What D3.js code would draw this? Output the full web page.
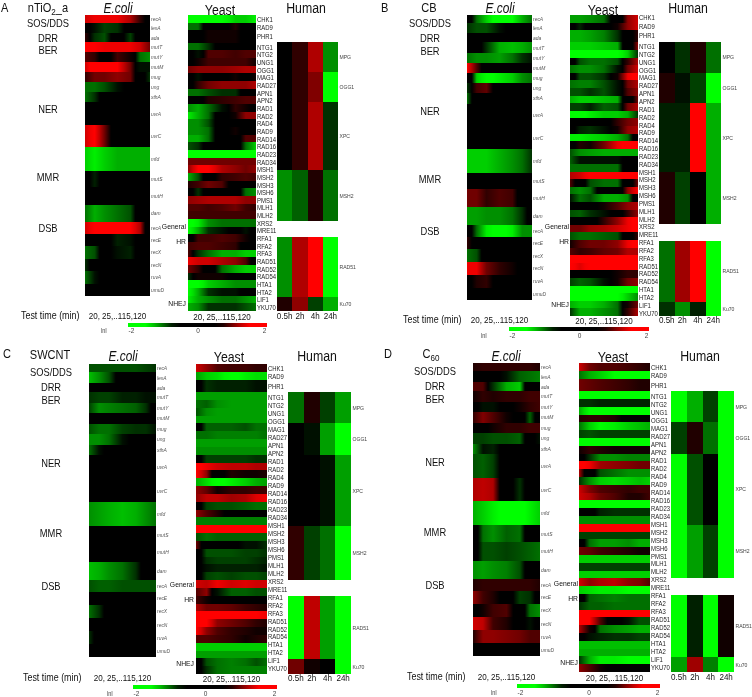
<!DOCTYPE html>
<html>
<head>
<meta charset="utf-8">
<script src="https://d3js.org/d3.v7.min.js"></script>
<style>
  html, body { margin: 0; padding: 0; background: #fff; }
  svg { display: block; filter: blur(.45px); font-family: "Liberation Sans", Arial, sans-serif; }
</style>
</head>
<body>
<script>
var timeKnots = [20, 35, 50, 70, 90, 105, 120];
var humanTimes = ["0.5h", "2h", "4h", "24h"];
var legendTicks = [-2, 0, 2];

var ecoliGenes = ["recA","lexA","ada","mutT","mutY","mutM","mug","ung","xthA","uvrA","uvrC","mfd","mutS","mutH","dam","recA","recE","recX","recN","ruvA","umuD"];
var ecoliWeights = [8,10,9,10,10,10,10,10,10,23,22,23,16,18,17,12,12,13,12,13,12];
var yeastGenes = ["CHK1","RAD9","PHR1","NTG1","NTG2","UNG1","OGG1","MAG1","RAD27","APN1","APN2","RAD1","RAD2","RAD4","RAD9","RAD14","RAD16","RAD23","RAD34","MSH1","MSH2","MSH3","MSH6","PMS1","MLH1","MLH2","XRS2","MRE11","RFA1","RFA2","RFA3","RAD51","RAD52","RAD54","HTA1","HTA2","LIF1","YKU70"];
var humanGenes = ["MPG","OGG1","XPC","MSH2","","RAD51","Ku70"];
var humanWeights = [30,30,68,51,16,60,14];
var categories = ["SOS/DDS","DRR","BER","NER","MMR","DSB"];
var subCategories = ["General","HR","NHEJ"];

// lnI, one row per line
var ecoliA = [
  [1.3,1.4,1.4,1.4,1.2,.8,0],
  [0,-.7,-.85,-.8,0,0,0],
  [.8,-.8,-.9,0,-.85,0,0],
  [1.45,1.45,1.4,1.4,1.4,1.3,1],
  [.9,.8,0,.85,.7,-1,-1.1],
  [1.3,1.6,1.6,1.5,1,-.7,-.7],
  [.8,1,1,1.1,1,0,-.8],
  [-1,-1,-.9,-.7,0,0,0],
  [-1,-.8,0,0,0,0,0],
  [0,0,0,0,0,0,0],
  [1.3,1.5,1,0,0,0,0],
  [-1.3,-1.4,-1.3,-1.2,-1.2,-1.2,-1.2],
  [0,-.75,0,0,0,0,0],
  [0,0,0,0,0,0,0],
  [-1,-1.2,-1.1,-1,-.9,0,0],
  [1.3,1.5,1.6,1.6,1.5,1.2,0],
  [0,0,0,-.75,-.7,0,0],
  [-1,-.9,0,-.7,-.75,0,0],
  [-.8,0,0,0,0,0,0],
  [-1,-.7,0,0,0,0,0],
  [0,0,0,0,0,0,0]
];
var yeastA = [
  [-1.6,-1.5,-1.5,-1.5,-1.3,-1.3,-1.4],
  [-1,-1,0,0,.75,0,0],
  [0,0,.7,.7,.7,0,0],
  [-1,-1,-.8,0,0,0,0],
  [0,-.7,.9,.9,.85,.9,.9],
  [0,.7,.85,.85,.85,.85,.7],
  [1,1.1,1.1,1.1,1.15,1.2,1.2],
  [0,-.7,0,0,.7,0,.7],
  [0,.8,1,1.1,1.1,1.1,1.2],
  [-1,-1,-.9,-.8,-.8,0,0],
  [0,0,.75,.8,.85,.9,.9],
  [-1.1,-1.2,-1,-.7,.8,.7,0],
  [-1.4,-1.2,-1,0,.7,1.1,1.1],
  [-1.1,-1.1,-.9,0,0,0,0],
  [-1.1,-1.1,-1,0,.7,0,0],
  [-1.2,-1.2,-1,0,0,.9,.9],
  [-.9,-.8,0,0,0,-1,-1.3],
  [-1.5,-1.6,-1.5,-1.5,-1.5,-1.5,-1.5],
  [1,1,1,1,1,1,1],
  [1.1,1.5,1.5,1.2,1.1,1,1.1],
  [-1.2,-.9,0,.8,.85,.9,.85],
  [.75,.85,1,.9,0,0,0],
  [0,-.8,0,0,0,-1,-1.1],
  [1.1,1.15,1.2,1.2,1.2,1.1,1.1],
  [.9,.9,.85,.9,1,.85,.8],
  [.85,.85,.85,.85,.85,.85,.85],
  [-1.6,-1.4,-1.1,-1,-1,-1,-1],
  [-1.5,-1.2,-.8,-.7,0,-.7,0],
  [0,.85,.85,.9,.85,.7,0],
  [.85,.9,.9,.85,.8,0,0],
  [.9,-.8,-1,-1.2,-1.2,-1.3,-1.3],
  [1.4,1.3,1.3,1.2,1.1,.9,0],
  [1,.8,0,-1,-1.2,-1.3,-1.3],
  [-.8,.7,.7,.7,0,0,0],
  [-1.5,-1.5,-1.3,-1.2,-1.1,-1.1,-1.1],
  [-1.5,-1.2,-.8,-.7,-.7,0,0],
  [-1.4,-1.2,-1.1,-1,-1,-1.1,-1.2],
  [-1.2,-1.1,-.8,-.8,-.8,-.9,-1]
];
var humanA = [[0,.8,1.2,-1.1],[0,.8,1.05,-1.6],[0,.8,1.2,-.8],[-1.1,-.95,.75,-1],[],[-1.1,1.2,1.5,-1.5],[.75,1.1,-.85,-1.2]];

var ecoliB = [
  [0,-1,-1.3,-1.6,-1.45,-1.2,-1],
  [-.8,-.9,-.9,-.7,0,0,0],
  [0,0,0,0,0,0,0],
  [0,0,-.8,-1.2,-1.25,-1.2,-1.1],
  [-1,-1.1,-1.1,-1.15,-1,-.8,-.7],
  [1.5,.9,0,0,0,0,0],
  [0,-1.3,-1.5,-1.4,-1.3,-1.1,-1],
  [-.8,.85,.95,0,0,0,0],
  [-1,0,0,0,0,0,0],
  [0,0,0,0,0,0,0],
  [0,0,0,0,0,0,0],
  [-1.3,-1.3,-1.3,-1.2,-1.1,-1,-.8],
  [0,0,0,0,0,0,0],
  [1,1,.8,.9,.85,0,0],
  [-1.15,-1.15,-1.1,-1.1,-1,-.8,0],
  [0,-1,-1.4,-1.7,-1.4,-1.1,-1.1],
  [.8,0,0,0,0,0,0],
  [-1,-.9,0,0,0,0,0],
  [1.4,1.4,1,.8,.7,0,0],
  [0,.75,.8,0,0,0,0],
  [0,0,0,0,0,0,0]
];
var yeastB = [
  [-1.15,-1.15,-1.1,-1,0,1.1,1.3],
  [0,-.75,0,0,.7,1.1,1.3],
  [-1.2,-1.2,-1.15,-1.05,-.8,0,.8],
  [-1.3,-1.3,-1.3,-1.25,-1.2,0,1.1],
  [-1.5,-1.5,-1.5,-1.5,-1.5,-1.3,-.8],
  [0,-.9,-1,-1,-.9,.8,1.2],
  [-1,-1.1,-1.1,-1,-.7,1,1.3],
  [0,-.9,-.9,-.8,.7,1.4,1.6],
  [-1,-1.05,-1.05,-.9,-.7,1,1.2],
  [-.9,-.9,-.8,-.9,-.7,.9,1.1],
  [-1.2,-1.3,-1.3,-1.25,-1.2,0,1],
  [-.85,-.85,-.75,-.95,-.9,1,1.2],
  [-1.5,-1.5,-1.4,-1.3,-1.3,-1.2,-.8],
  [0,0,0,0,.8,1,1.1],
  [0,-.75,-.8,-.7,.7,1.1,1.2],
  [-1.4,-1.4,-1.35,-1.3,-1.2,-1,0],
  [0,.75,.7,1,1.4,1.5,1.5],
  [-.9,-1.1,-1.15,-1.2,-1.2,-1.2,-1.2],
  [-.95,-.7,-.7,-.7,-.7,0,0],
  [-1,-1,-1,-1,-1,0,0],
  [1.2,1.3,1.5,1.5,1.5,1.5,1.5],
  [.9,0,-.9,-1,-1,0,1],
  [-1,-1.1,-1,0,0,1.1,1.5],
  [-.7,-1,-.9,-1.2,-1.2,-1.1,0],
  [0,0,0,.7,.9,1.1,1.2],
  [-.9,-.95,-.8,-.7,0,.8,1.1],
  [0,0,0,.8,1.1,1.4,1.5],
  [1,1,1.15,1.2,1.3,1.4,1.5],
  [-.9,-1,-1,-.95,-.9,0,.8],
  [.7,.9,1,1,1.1,1.4,1.5],
  [.9,.8,.85,.95,1,1.2,1.2],
  [1.5,1.5,1.5,1.5,1.5,1.5,1.5],
  [1.5,1.35,1.5,1.5,1.5,1.5,1.5],
  [0,0,0,0,.7,.8,.8],
  [-.85,-.95,-.9,-.7,.7,1,1.1],
  [-1.6,-1.6,-1.6,-1.6,-1.6,-1.6,-1.6],
  [-1.6,-1.6,-1.6,-1.55,-1.5,-1.3,-1.1],
  [-1.2,-1.3,-1.3,-1.2,-1,.7,1],
  [-.8,-1.2,-1.2,-1.1,-1,.8,1.2]
];
var humanB = [[0,-.8,.75,-1],[.75,-.7,-.85,-1.6],[-.75,-.75,1.5,-1.2],[.75,-.85,0,-1.2],[],[-1,1.15,1.5,-1.6],[-.8,-1.1,-.75,-1.6]];

var ecoliC = [
  [-.9,-.9,-.9,-.9,-.9,-.85,-.8],
  [-1.25,-1.1,-.9,0,0,0,0],
  [0,0,0,0,0,0,0],
  [-.8,-.85,-.85,-.75,-.75,-.7,-.7],
  [-.85,-1.1,-1.05,-1,-.95,-.8,0],
  [0,0,0,0,0,0,0],
  [-.9,-1,-1,-.85,-.8,-.8,-.7],
  [-1.1,-1.1,-1,-.7,0,0,0],
  [-1,-.7,0,0,0,0,0],
  [0,0,0,0,0,0,0],
  [0,0,0,0,0,0,0],
  [-1.1,-1.15,-1.2,-1.25,-1.2,-1.1,-1],
  [0,0,0,0,0,0,0],
  [0,0,0,0,0,0,0],
  [-1.25,-1.2,-1.1,-1,-.8,0,0],
  [-.9,-.95,-.95,-.9,-.9,-.9,-.9],
  [0,0,0,0,0,0,0],
  [-1,-.8,0,0,0,0,0],
  [0,0,0,0,0,0,0],
  [-.8,0,0,0,0,0,0],
  [0,0,0,0,0,0,0]
];
var yeastC = [
  [1.3,1.1,.9,.85,.85,.8,.8],
  [-1.15,-1.3,-1.35,-1.5,-1.4,-1.35,-1.35],
  [0,-.8,-.75,-.75,-.75,-.7,-.7],
  [-1.15,-1.15,-1.15,-1.15,-1.15,-1.15,-1.15],
  [-1,-.95,-1.1,-1.15,-1.15,-1.15,-1.15],
  [-.9,-1.1,-1.15,-1.15,-1.15,-1.15,-1.15],
  [-1.15,-1.15,-1.15,-1.15,-1.15,-1.15,-1.15],
  [0,-.95,-.95,-.95,-.9,-1,-1],
  [-1,-1,-1.05,-1.05,-1.05,-1.05,-1],
  [-1.15,-1.15,-1.15,-1.15,-1.15,-1.15,-1.15],
  [-1.1,-1.1,-1.1,-1.1,-1.1,-1.1,-1.1],
  [0,-.85,-.85,-.85,-.85,-.8,-.8],
  [1.5,1.4,1.3,1.25,1.25,1.2,1.2],
  [1.5,1.1,0,.75,.7,.7,.75],
  [-1.2,-1.35,-1.5,-1.4,-1.3,-1.2,-1.15],
  [1.1,.95,.7,.8,.8,.85,.85],
  [1.1,1.25,1.25,1.15,1.2,1.35,1.4],
  [0,-.85,-.9,-.9,-.95,-1,-1],
  [1.1,.9,.75,0,0,0,0],
  [-1.05,-1.05,-1.05,-1.05,-1.05,-1.05,-1.05],
  [1.5,1.5,1.5,1.5,1.5,1.5,1.5],
  [-.9,-1,-.95,-.95,-.95,-.95,-.95],
  [1,0,0,0,-.7,-.7,-.8],
  [0,-.9,-.9,-.9,-.85,-.85,-.8],
  [0,-.8,-.85,-.85,-.85,-.8,-.75],
  [0,-.7,-.75,-.75,-.75,-.75,-.7],
  [0,-.85,-.9,-.85,-.9,-.9,-.85],
  [1.3,1.25,1.4,1.3,1.35,1.3,1.3],
  [.9,1.1,-.7,-.95,-.95,-.9,-.9],
  [.85,.7,0,0,0,0,0],
  [1.2,1,1,.95,.85,.8,.75],
  [1.5,1.5,1.5,1.5,1.5,1.45,1.4],
  [1.6,1.5,1.1,1,.9,.8,.75],
  [1.5,1.1,.9,.8,.75,.7,.7],
  [.9,.9,.85,.8,.7,.75,.8],
  [-1.3,-1.3,-1.3,-1.3,-1.3,-1.3,-1.3],
  [-1.15,-1.15,-1.15,-1.15,-1.15,-1.15,-1.15],
  [0,-.9,-1,-1.05,-1,-.9,-1],
  [0,-.8,-1,-1.05,-1.05,-1.05,-1.05]
];
var humanC = [[-1,.75,-.85,-1.15],[0,-.7,-1.15,-1.6],[0,0,-.7,-1.15],[.8,-.85,-1,-1.5],[],[-1.5,1.25,-1.15,-1.5],[1,.7,0,-1.6]];

var ecoliD = [
  [.75,.8,.8,.8,.8,.8,.75],
  [0,0,0,-.7,-.95,-1,-1.05],
  [.9,.9,-.8,-1.2,-1.3,0,0],
  [.7,.8,.75,.8,.8,.85,.85],
  [0,-.7,-.7,0,.7,.8,.85],
  [.8,1.05,.9,.7,0,-.95,0],
  [0,0,.7,.8,.8,.85,.85],
  [-.85,-.85,-.9,-.9,-.95,0,-.7],
  [-1.1,-.7,-.75,0,0,0,0],
  [-.9,-.95,-.85,0,0,0,0],
  [1.2,1.25,1.2,0,-.8,0,0],
  [-1.2,-1.3,-1.4,-1.5,-1.6,-1.4,-1.3],
  [0,-1,-1.1,-.95,-1,0,0],
  [0,-.9,-.9,-.85,-.9,-.95,-1],
  [-1.1,-1.15,-1.1,-1.05,-.9,0,0],
  [.75,.8,.8,.8,.8,.8,.75],
  [1.1,.85,.75,0,-.85,-.8,0],
  [0,.7,.85,.9,0,-1,-1.1],
  [1.3,1.25,.85,.75,0,-.7,0],
  [.75,1.1,1.1,1.05,1,.9,.9],
  [0,0,0,0,0,0,0]
];
var yeastD = [
  [1.3,1,.9,.9,.85,.8,.75],
  [-1,-1.2,-1.3,-1.45,-1.5,-1.5,-1.5],
  [1,.95,.9,.85,.8,.75,.75],
  [-1.6,-1.6,-1.6,-1.6,-1.6,-1.6,-1.6],
  [-.8,-.8,-.75,-.75,-.75,-.75,-.75],
  [-1.2,-1.5,-1.55,-1.6,-1.6,-1.6,-1.6],
  [.75,.8,.8,.75,0,0,0],
  [-1,-1.3,-1.45,-1.4,-1.3,-1.25,-1.2],
  [-.85,-.9,-.85,-.85,-.85,-.85,-.85],
  [-1.6,-1.6,-1.6,-1.6,-1.6,-1.6,-1.6],
  [.7,.8,.75,.7,.7,.7,.7],
  [0,-.8,-1.1,-1.1,-1.05,-1.05,-1.05],
  [1.6,1.4,1.15,1.1,1.05,1,1],
  [1.2,0,-.9,-1,-1.1,-1.1,-1.1],
  [-.8,-1.1,-1.3,-1.35,-1.3,-1.25,-1.3],
  [1.3,1.05,.9,.85,.8,.85,.85],
  [1.3,1.2,1,.9,.75,.75,.85],
  [-1.6,-1.6,-1.6,-1.6,-1.6,-1.6,-1.6],
  [0,0,-.75,-.8,-.8,-.8,-.8],
  [-1.1,-1.1,-1.1,-1.1,-1.1,-1.1,-1.1],
  [1.5,1.5,1.5,1.5,1.5,1.5,1.5],
  [-.85,-.85,-.85,-.85,-.85,-.85,-.85],
  [0,-1,-1.15,-1.15,-1.1,-1.2,-1.2],
  [1,.95,.85,.8,.75,.7,.7],
  [-1.3,-1.3,-1.3,-1.3,-1.3,-1.3,-1.3],
  [-.85,-.85,-.85,-.85,-.85,-.85,-.85],
  [-1.3,-1.3,-1.3,-1.3,-1.3,-1.3,-1.3],
  [1.3,1.1,1.2,1.25,1.1,1.05,.9],
  [-1.3,-1.35,-1.4,-1.4,-1.45,-1.5,-1.5],
  [0,-.95,-1,-1.05,-1,-1,-1],
  [-.8,-.95,-.95,-1,-1,-1,-1],
  [1.5,1.5,1.5,1.5,1.5,1.5,1.5],
  [1.6,1.5,.9,0,-.7,-.9,-.9],
  [1.2,.7,-1,-1.1,-1.15,-1.2,-1.2],
  [0,-.7,-.75,-.8,-.8,-.85,-.85],
  [-1.25,-1.25,-1.25,-1.25,-1.25,-1.25,-1.25],
  [-1.2,-1.2,-1.2,-1.2,-1.2,-1.2,-1.2],
  [-.8,-1.2,-1.4,-1.4,-1.45,-1.5,-1.5],
  [1.1,.9,.7,0,0,0,0]
];
var humanD = [[-1.6,-1.2,-.85,-1.6],[-.85,.75,-1,-1.6],[-1.6,-.9,0,-1.6],[-1.6,-1.15,-.85,-1.6],[],[-1.6,-.75,-1.6,.7],[-1.15,1.15,-1.05,-1.6]];

// layout only, values are all above
var panels = [
  {letter: "A", title: [["nTiO",0],["2",1],["_a",0]], ecoli: ecoliA, yeast: yeastA, human: humanA,
   letterX: 1, letterY: 12, titleX: 48, titleY: 12, headY: [13,14.5,13], headX: [118,220,306],
   ex: [85,150], ey: [15,296], yx: [188,256], yy: [15,311], hx: [277,338], hy: [42,311],
   labelY: [47.3,307.6], catX: 48, catY: [26.7,41.7,54,113,180.7,232], testX: 21, timeY: 319,
   subX: 186, subY: [229,244,306], barX: [128,267], barY: [323,327], lnX: 101, lnY: 333},
  {letter: "B", title: [["CB",0]], ecoli: ecoliB, yeast: yeastB, human: humanB,
   letterX: 381, letterY: 12, titleX: 429, titleY: 12, headY: [13,14.5,13], headX: [500,603,688],
   ex: [467,532], ey: [15,300], yx: [570,638], yy: [15,316], hx: [659,721], hy: [42,316],
   labelY: [46.7,313.3], catX: 430, catY: [26.7,42,55,115,183,235], testX: 403, timeY: 323,
   subX: 569, subY: [229,244,307], barX: [509,649], barY: [327,331], lnX: 481, lnY: 338},
  {letter: "C", title: [["SWCNT",0]], ecoli: ecoliC, yeast: yeastC, human: humanC,
   letterX: 3, letterY: 358, titleX: 50, titleY: 359, headY: [361,362,361], headX: [123,229,317],
   ex: [89,156], ey: [364,657], yx: [196,267], yy: [364,674], hx: [288,351], hy: [392,674],
   labelY: [397.7,669], catX: 51, catY: [376,391,404,467,537,590], testX: 23, timeY: 681,
   subX: 194, subY: [587,602,666], barX: [133,277], barY: [685,689], lnX: 107, lnY: 696},
  {letter: "D", title: [["C",0],["60",1]], ecoli: ecoliD, yeast: yeastD, human: humanD,
   letterX: 384, letterY: 358, titleX: 431, titleY: 358, headY: [361,362,361], headX: [506,613,700],
   ex: [473,540], ey: [363,656], yx: [579,650], yy: [363,672], hx: [671,734], hy: [391,672],
   labelY: [396.7,667.7], catX: 435, catY: [375,390,403,466,536,589], testX: 407, timeY: 680,
   subX: 578, subY: [586,601,665], barX: [517,660], barY: [684,688], lnX: 491, lnY: 695}
];

var width = 752,
    height = 697,
    narrow = 0.85;

var svg = d3.select("body").append("svg")
            .attr("width", width)
            .attr("height", height);
var defs = svg.append("defs");

var color = d3.scaleLinear()
              .domain([-1.45, -0.65, 0.65, 1.45])
              .range(["#00ff00", "#000000", "#000000", "#ff0000"])
              .clamp(true);

var gradId = 0;

function addText(g, str, x, y, size, anchor, fill, italic) {
  return g.append("text")
          .attr("transform", "translate(" + x + "," + y + ") scale(" + narrow + ",1)")
          .attr("font-size", size)
          .attr("text-anchor", anchor || "start")
          .attr("fill", fill || "#111")
          .attr("font-style", italic ? "italic" : null)
          .text(str);
}

// cumulative position of rows of unequal height
function rowScale(weights, range) {
  var edges = [0];
  weights.forEach(function(w) { edges.push(edges[edges.length - 1] + w); });
  var y = d3.scaleLinear().domain([0, edges[edges.length - 1]]).range(range);
  return function(i) { return [y(edges[i]), y(edges[i + 1])]; };
}

// smooth row: stops at the read knots, plus one halfway so red to green runs through black
function rowGradient(values) {
  var id = "row" + (gradId++);
  var offset = d3.scaleLinear().domain([20, 120]).range([0, 100]);
  var stops = [];
  values.forEach(function(v, i) {
    stops.push({t: timeKnots[i], v: v});
    if (i < values.length - 1) stops.push({t: (timeKnots[i] + timeKnots[i + 1]) / 2, v: (v + values[i + 1]) / 2});
  });
  defs.append("linearGradient").attr("id", id)
      .selectAll("stop").data(stops).enter().append("stop")
      .attr("offset", function(d) { return offset(d.t) + "%"; })
      .attr("stop-color", function(d) { return color(d.v); });
  return "url(#" + id + ")";
}

function heatRows(g, rows, weights, xr, yr) {
  var pos = rowScale(weights, yr);
  g.append("g").selectAll("rect").data(rows).enter().append("rect")
      .attr("shape-rendering", "crispEdges")
      .attr("x", xr[0])
      .attr("width", xr[1] - xr[0])
      .attr("y", function(d, i) { return pos(i)[0]; })
      .attr("height", function(d, i) { return pos(i)[1] - pos(i)[0]; })
      .attr("fill", function(d) { return rowGradient(d); });
}

function drawPanel(p) {
  var g = svg.append("g");

  addText(g, p.letter, p.letterX, p.letterY, 13);
  var title = addText(g, null, p.titleX, p.titleY, 13, "middle");
  title.selectAll("tspan").data(p.title).enter().append("tspan")
       .attr("font-size", function(d) { return d[1] ? 9.5 : null; })
       .attr("dy", function(d, i) {
         if (d[1]) return 3;
         return i > 0 ? -3 : null;
       })
       .text(function(d) { return d[0]; });

  addText(g, "E.coli", p.headX[0], p.headY[0], 14, "middle", "#111", true);
  addText(g, "Yeast", p.headX[1], p.headY[1], 14.5, "middle");
  addText(g, "Human", p.headX[2], p.headY[2], 14.5, "middle");

  categories.forEach(function(c, i) { addText(g, c, p.catX, p.catY[i], 11, "middle"); });
  subCategories.forEach(function(c, i) { addText(g, c, p.subX, p.subY[i], 8, "end"); });

  // E. coli
  heatRows(g, p.ecoli, ecoliWeights, p.ex, p.ey);
  var ePos = rowScale(ecoliWeights, p.ey);
  ecoliGenes.forEach(function(name, i) {
    addText(g, name, p.ex[1] + 1, (ePos(i)[0] + ePos(i)[1]) / 2 + 2, 5.8, "start", "#555", true);
  });

  // yeast, the heat rows and the printed names do not share one grid
  var yWeights = p.yeast.map(function(d, i) { return i === 2 ? 1.6 : 1; });
  heatRows(g, p.yeast, yWeights, p.yx, p.yy);
  var lab = d3.scaleLinear().domain([3, yeastGenes.length - 1]).range(p.labelY);
  var step = lab(4) - lab(3);
  yeastGenes.forEach(function(name, i) {
    var ly = i < 3 ? lab(3) - [3.65, 2.6, 1.4][i] * step : lab(i);
    addText(g, name, p.yx[1] + 1, ly + 2.4, 7, "start", "#222");
  });

  // human
  var hx = d3.scaleBand().domain(humanTimes).range(p.hx);
  var hPos = rowScale(humanWeights, p.hy);
  p.human.forEach(function(row, r) {
    var y = hPos(r);
    g.append("g").selectAll("rect").data(row).enter().append("rect")
        .attr("shape-rendering", "crispEdges")
        .attr("x", function(d, i) { return hx(humanTimes[i]); })
        .attr("width", hx.bandwidth())
        .attr("y", y[0])
        .attr("height", y[1] - y[0])
        .attr("fill", function(d) { return color(d); });
    addText(g, humanGenes[r], p.hx[1] + 1.5, (y[0] + y[1]) / 2 + 2, 6, "start", "#444");
  });

  var timeAxis = g.append("g")
      .attr("transform", "translate(0," + (p.timeY - 6.7) + ")")
      .call(d3.axisBottom(hx).tickSize(0).tickPadding(0));
  timeAxis.select(".domain").remove();
  timeAxis.selectAll("text").attr("font-size", 9.5).attr("fill", "#111")
      .attr("font-family", "inherit")
      .attr("transform", "scale(" + narrow + ",1)");

  // x captions
  addText(g, "Test time (min)", p.testX, p.timeY, 10.5, "start");
  addText(g, "20, 25,..115,120", (p.ex[0] + p.ex[1]) / 2, p.timeY, 9.5, "middle");
  addText(g, "20, 25,..115,120", (p.yx[0] + p.yx[1]) / 2, p.timeY + 0.5, 9.5, "middle");

  // colour bar
  var lx = d3.scaleLinear().domain([-2, 2]).range([p.barX[0] + 3, p.barX[1] - 3]);
  var barStops = d3.range(-2, 2.01, 0.25);
  var barId = "bar" + p.letter;
  defs.append("linearGradient").attr("id", barId)
      .selectAll("stop").data(barStops).enter().append("stop")
      .attr("offset", function(d) { return ((d + 2) / 4 * 100) + "%"; })
      .attr("stop-color", function(d) { return color(d); });
  g.append("rect")
      .attr("x", p.barX[0]).attr("y", p.barY[0])
      .attr("width", p.barX[1] - p.barX[0]).attr("height", p.barY[1] - p.barY[0])
      .attr("fill", "url(#" + barId + ")");
  var barAxis = g.append("g")
      .attr("transform", "translate(0," + (p.lnY - 4.6) + ")")
      .call(d3.axisBottom(lx).tickValues(legendTicks).tickSize(0).tickPadding(0).tickFormat(String));
  barAxis.select(".domain").remove();
  barAxis.selectAll("text").attr("font-size", 6.5).attr("fill", "#444").attr("font-family", "inherit");
  addText(g, "lnI", p.lnX, p.lnY, 6.5, "start", "#444");
}

panels.forEach(drawPanel);
</script>
</body>
</html>
